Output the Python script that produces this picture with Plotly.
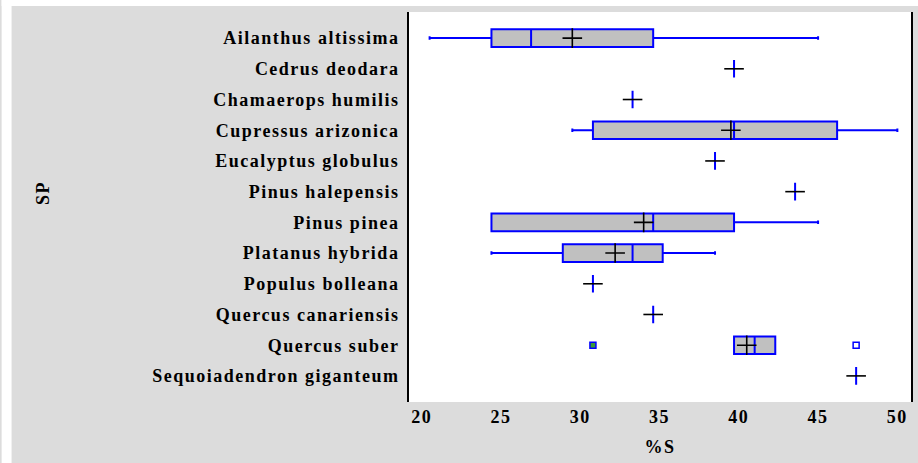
import plotly.graph_objects as go

species = ["Ailanthus altissima", "Cedrus deodara", "Chamaerops humilis",
           "Cupressus arizonica", "Eucalyptus globulus", "Pinus halepensis",
           "Pinus pinea", "Platanus hybrida", "Populus bolleana",
           "Quercus canariensis", "Quercus suber", "Sequoiadendron giganteum"]
lower_whisker = [20.5, 39.7, 33.3, 29.5, 38.5, 43.55, 24.4, 24.4, 30.8, 34.6, 39.7, 47.4]
q1_vals       = [24.4, 39.7, 33.3, 30.8, 38.5, 43.55, 24.4, 28.9, 30.8, 34.6, 39.7, 47.4]
median_vals   = [26.9, 39.7, 33.3, 39.7, 38.5, 43.55, 34.6, 33.3, 30.8, 34.6, 41.0, 47.4]
q3_vals       = [34.6, 39.7, 33.3, 46.2, 38.5, 43.55, 39.7, 35.2, 30.8, 34.6, 42.3, 47.4]
upper_whisker = [45.0, 39.7, 33.3, 50.0, 38.5, 43.55, 45.0, 38.5, 30.8, 34.6, 42.3, 47.4]
mean_vals     = [29.5, 39.7, 33.3, 39.5, 38.5, 43.55, 34.0, 32.2, 30.8, 34.6, 40.5, 47.4]
outlier_sp    = ["Quercus suber", "Quercus suber"]
outlier_vals  = [30.8, 47.4]
x_ticks       = [20, 25, 30, 35, 40, 45, 50]

FONT = "Liberation Serif"
BLUE = "#0000ff"

fig = go.Figure()
fig.add_trace(go.Box(
    y=species, q1=q1_vals, median=median_vals, q3=q3_vals,
    lowerfence=lower_whisker, upperfence=upper_whisker,
    orientation="h", fillcolor="#c0c0c0",
    line=dict(color=BLUE, width=2), whiskerwidth=0.2,
    showlegend=False, hoverinfo="skip",
))
symbols = ["line-ew" if a == b else "cross-thin" for a, b in zip(q1_vals, q3_vals)]
fig.add_trace(go.Scatter(
    x=mean_vals, y=species, mode="markers",
    marker=dict(symbol=symbols, size=14, line=dict(color="black", width=1.6), color="black"),
    showlegend=False, hoverinfo="skip",
))
fig.add_trace(go.Scatter(
    x=outlier_vals, y=outlier_sp, mode="markers",
    marker=dict(symbol="square", size=6, color=["#3a9a3a", "white"], line=dict(color=BLUE, width=1.5)),
    showlegend=False, hoverinfo="skip",
))

L, R, T, B = 409, 5, 12, 61
W, H = 918, 463
pw, ph = W - L - R, H - T - B

fig.update_layout(
    width=W, height=H,
    margin=dict(l=L, r=R, t=T, b=B, pad=0),
    paper_bgcolor="#dcdcdc", plot_bgcolor="white",
    font=dict(family=FONT, size=18, color="black", weight="bold"),
    boxgap=0.18,
    xaxis=dict(range=[19.2, 50.86], tickvals=x_ticks, showgrid=False, zeroline=False,
               showline=False, ticks="", ticklabelstandoff=2,
               tickfont=dict(family=FONT, size=18, weight="bold")),
    yaxis=dict(categoryorder="array", categoryarray=species, autorange=False,
               range=[11.85, -0.85], showgrid=False, zeroline=False,
               showline=True, mirror=True, linecolor="black", linewidth=2,
               ticks="", ticklabelstandoff=4,
               tickfont=dict(family=FONT, size=18, weight="bold")),
    shapes=[
        dict(type="rect", xref="paper", yref="paper", x0=-L / pw, x1=(10 - L) / pw,
             y0=-B / ph - 0.01, y1=(H - B) / ph + 0.01, fillcolor="white", line_width=0, layer="below"),
        dict(type="rect", xref="paper", yref="paper", x0=-L / pw, x1=1 + R / pw + 0.01,
             y0=(H - B - 6) / ph, y1=(H - B) / ph + 0.01, fillcolor="white", line_width=0, layer="below"),
    ],
    annotations=[
        dict(text="%S", xref="paper", yref="paper", x=0.5, y=-(447 - (H - B)) / ph,
             xanchor="center", yanchor="middle", showarrow=False,
             font=dict(family=FONT, size=18, weight="bold")),
        dict(text="SP", xref="paper", yref="paper", x=(42 - L) / pw, y=((H - B) - 193) / ph,
             xanchor="center", yanchor="middle", showarrow=False, textangle=-90,
             font=dict(family=FONT, size=18, weight="bold")),
    ],
)

post = """
document.body.style.margin = '0px';
document.querySelectorAll('.xtick text, .ytick text, .annotation-text').forEach(function(t){
  t.style.letterSpacing = '1.5px';
});
"""
fig.write_html("out.html", post_script=post, config={"displayModeBar": False})
